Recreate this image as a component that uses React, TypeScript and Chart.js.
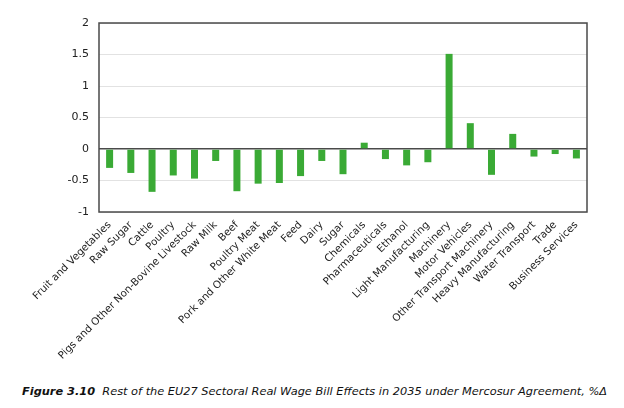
import React, { useEffect, useRef } from "react";
import { Chart, registerables } from "chart.js";

Chart.register(...registerables);

const categories: string[] = [
  "Fruit and Vegetables",
  "Raw Sugar",
  "Cattle",
  "Poultry",
  "Pigs and Other Non-Bovine Livestock",
  "Raw Milk",
  "Beef",
  "Poultry Meat",
  "Pork and Other White Meat",
  "Feed",
  "Dairy",
  "Sugar",
  "Chemicals",
  "Pharmaceuticals",
  "Ethanol",
  "Light Manufacturing",
  "Machinery",
  "Motor Vehicles",
  "Other Transport Machinery",
  "Heavy Manufacturing",
  "Water Transport",
  "Trade",
  "Business Services",
];

const values: number[] = [
  -0.3, -0.38, -0.68, -0.42, -0.47, -0.19, -0.67, -0.55, -0.54, -0.43, -0.19, -0.4,
  0.1, -0.16, -0.26, -0.21, 1.51, 0.41, -0.41, 0.24, -0.12, -0.08, -0.15,
];

const yMin = -1;
const yMax = 2;
const yStep = 0.5;

const FONT = "'DejaVu Sans', Verdana, sans-serif";

const borderPlugin = {
  id: "plotBorder",
  afterDraw(chart: any) {
    const { ctx, chartArea } = chart;
    ctx.save();
    ctx.strokeStyle = "#4a4a4a";
    ctx.lineWidth = 1.5;
    ctx.strokeRect(chartArea.left, chartArea.top, chartArea.right - chartArea.left, chartArea.bottom - chartArea.top);
    ctx.restore();
  },
};

export default function App() {
  const canvasRef = useRef<HTMLCanvasElement | null>(null);

  useEffect(() => {
    if (!canvasRef.current) return;
    const chart = new Chart(canvasRef.current, {
      type: "bar",
      data: {
        labels: categories,
        datasets: [
          {
            data: values,
            backgroundColor: "#3aaa35",
            borderWidth: 0,
            barPercentage: 0.33,
            categoryPercentage: 1,
          },
        ],
      },
      options: {
        animation: false,
        responsive: false,
        maintainAspectRatio: false,
        layout: { padding: { left: 0, right: 37, top: 23, bottom: 0 } },
        plugins: {
          legend: { display: false },
          tooltip: { enabled: false },
        },
        scales: {
          x: {
            grid: { display: false, drawTicks: false },
            border: { display: false },
            ticks: {
              minRotation: 45,
              maxRotation: 45,
              autoSkip: false,
              padding: 7,
              color: "#222",
              font: { family: FONT, size: 10.3 },
            },
            afterFit(scale: any) {
              scale.height = 370 - 212;
            },
          },
          y: {
            min: yMin,
            max: yMax,
            grid: {
              drawTicks: false,
              color: (ctx: any) => (ctx.tick && ctx.tick.value === 0 ? "#4a4a4a" : "#e2e2e2"),
              lineWidth: (ctx: any) => (ctx.tick && ctx.tick.value === 0 ? 1.5 : 1),
            },
            border: { display: false },
            ticks: {
              stepSize: yStep,
              padding: 10,
              color: "#222",
              font: { family: FONT, size: 11 },
              callback: (v: any) => String(Number(v)),
            },
            afterFit(scale: any) {
              scale.width = 99;
            },
          },
        },
      },
      plugins: [borderPlugin],
    });
    return () => chart.destroy();
  }, []);

  return (
    <div
      style={{
        position: "absolute",
        left: 0,
        top: 0,
        width: 624,
        height: 408,
        background: "#fff",
        overflow: "hidden",
      }}
    >
      <canvas ref={canvasRef} width={624} height={370} style={{ display: "block", width: 624, height: 370 }} />
      <div
        style={{
          position: "absolute",
          left: 22,
          top: 384,
          fontFamily: FONT,
          fontSize: 11.35,
          fontStyle: "italic",
          color: "#111",
          whiteSpace: "nowrap",
        }}
      >
        <b>Figure 3.10</b>
        {"\u00a0 Rest of the EU27 Sectoral Real Wage Bill Effects in 2035 under Mercosur Agreement, %\u0394"}
      </div>
    </div>
  );
}
